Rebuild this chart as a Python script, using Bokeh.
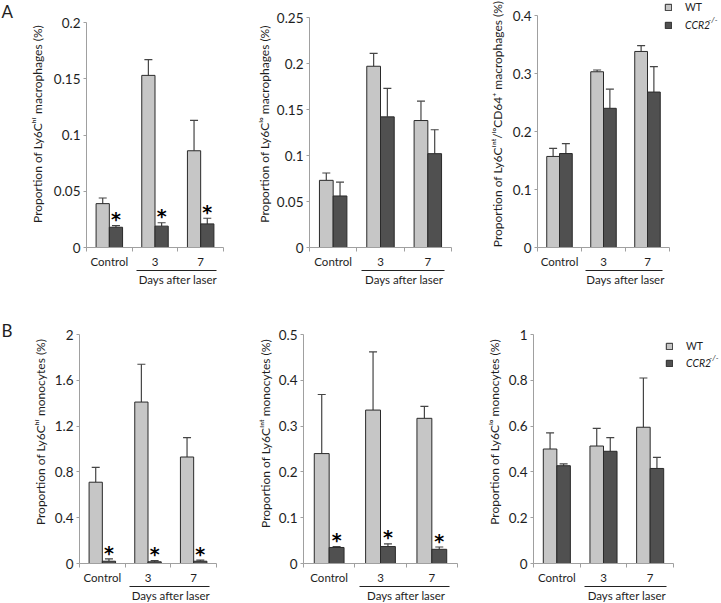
import numpy as np
from bokeh.plotting import figure
from bokeh.models import (Range1d, FixedTicker, LinearAxis, Label, Legend, LegendItem,
                          ColumnDataSource, Whisker, TeeHead)
from bokeh.layouts import column, row
from bokeh.embed import file_html
from bokeh.resources import INLINE
from bokeh.core.properties import value

# ---------------- data ----------------
categories = ["Control", "3", "7"]
group_label = "Days after laser"
series_names = ["WT", "CCR2"]
panel_letters = ["A", "B"]

# A: macrophages
a1_wt = [0.039, 0.153, 0.086]
a1_wt_err = [0.005, 0.014, 0.027]
a1_ko = [0.018, 0.019, 0.021]
a1_ko_err = [0.0015, 0.003, 0.005]
a1_stars = [True, True, True]
a1_yticks = [0, 0.05, 0.1, 0.15, 0.2]
a1_ylabels = ["0", "0.05", "0.1", "0.15", "0.2"]
a1_title = "Proportion of Ly6Cʰⁱ macrophages (%)"

a2_wt = [0.073, 0.197, 0.138]
a2_wt_err = [0.008, 0.014, 0.021]
a2_ko = [0.056, 0.142, 0.102]
a2_ko_err = [0.015, 0.031, 0.026]
a2_stars = [False, False, False]
a2_yticks = [0, 0.05, 0.1, 0.15, 0.2, 0.25]
a2_ylabels = ["0", "0.05", "0.1", "0.15", "0.2", "0.25"]
a2_title = "Proportion of Ly6Cˡᵒ macrophages (%)"

a3_wt = [0.157, 0.303, 0.338]
a3_wt_err = [0.014, 0.003, 0.010]
a3_ko = [0.162, 0.240, 0.268]
a3_ko_err = [0.017, 0.033, 0.044]
a3_stars = [False, False, False]
a3_yticks = [0, 0.1, 0.2, 0.3, 0.4]
a3_ylabels = ["0", "0.1", "0.2", "0.3", "0.4"]
a3_title = "Proportion of Ly6Cⁱⁿᵗ/ˡᵒCD64⁺ macrophages (%)"

# B: monocytes
b1_wt = [0.71, 1.41, 0.93]
b1_wt_err = [0.13, 0.33, 0.17]
b1_ko = [0.02, 0.015, 0.02]
b1_ko_err = [0.02, 0.01, 0.01]
b1_stars = [True, True, True]
b1_yticks = [0, 0.4, 0.8, 1.2, 1.6, 2]
b1_ylabels = ["0", "0.4", "0.8", "1.2", "1.6", "2"]
b1_title = "Proportion of Ly6Cʰⁱ monocytes (%)"

b2_wt = [0.240, 0.335, 0.317]
b2_wt_err = [0.129, 0.127, 0.026]
b2_ko = [0.035, 0.037, 0.031]
b2_ko_err = [0.002, 0.006, 0.005]
b2_stars = [True, True, True]
b2_yticks = [0, 0.1, 0.2, 0.3, 0.4, 0.5]
b2_ylabels = ["0", "0.1", "0.2", "0.3", "0.4", "0.5"]
b2_title = "Proportion of Ly6Cⁱⁿᵗ  monocytes (%)"

b3_wt = [0.50, 0.513, 0.595]
b3_wt_err = [0.07, 0.077, 0.215]
b3_ko = [0.427, 0.49, 0.415]
b3_ko_err = [0.008, 0.06, 0.048]
b3_stars = [False, False, False]
b3_yticks = [0, 0.2, 0.4, 0.6, 0.8, 1]
b3_ylabels = ["0", "0.2", "0.4", "0.6", "0.8", "1"]
b3_title = "Proportion of Ly6Cˡᵒ monocytes (%)"

# ---------------- style ----------------
FONT = "Lato"
WT_COL = "#c6c6c6"
KO_COL = "#505050"
AXIS_COL = "#a0a0a0"
TXT_COL = "#1e1e1e"
BAR_W = 0.29

ROW1 = dict(fh=247, top=0, bottom=53)
ROW2 = dict(fh=263, top=0, bottom=39)


def make_panel(wt, wt_err, ko, ko_err, stars, yticks, ylabels, ytitle,
               fw_axis, fh_axis, left, right, title_standoff, rowcfg, fw_extra=0):
    n = len(categories)
    ymax = yticks[-1]
    fw = fw_axis + fw_extra
    fh = rowcfg["fh"]
    p = figure(frame_width=fw, frame_height=fh,
               min_border_left=left, min_border_right=right,
               min_border_top=rowcfg["top"], min_border_bottom=rowcfg["bottom"],
               x_range=Range1d(0, n * fw / fw_axis), y_range=Range1d(0, ymax * fh / fh_axis),
               x_axis_type=None, y_axis_type=None,
               output_backend="svg", toolbar_location=None)
    p.outline_line_color = None
    p.background_fill_color = "white"
    p.border_fill_color = "white"

    xc = np.arange(n) + 0.5
    x_wt = xc - BAR_W / 2
    x_ko = xc + BAR_W / 2
    wt = np.array(wt); ko = np.array(ko)
    wt_up = wt + np.array(wt_err)
    ko_up = ko + np.array(ko_err)

    # error bars (upper only)
    for xs, lo, up in [(x_wt, wt, wt_up), (x_ko, ko, ko_up)]:
        src = ColumnDataSource(dict(x=xs, lower=lo, upper=up))
        w = Whisker(source=src, base="x", lower="lower", upper="upper", dimension="height",
                    line_color="#454545", line_width=1.2, lower_head=None,
                    upper_head=TeeHead(size=8, line_color="#454545", line_width=1.2))
        p.add_layout(w)

    r_wt = p.vbar(x=x_wt, top=wt, width=BAR_W, fill_color=WT_COL,
                  line_color="#2a2a2a", line_width=1)
    r_ko = p.vbar(x=x_ko, top=ko, width=BAR_W, fill_color=KO_COL,
                  line_color="#2a2a2a", line_width=1)

    sig = np.array(stars)
    if sig.any():
        p.text(x=x_ko[sig], y=(ko_up + 0.028 * ymax)[sig], text=["*"] * int(sig.sum()),
               text_font=value("DejaVu Sans"), text_font_style="bold",
               text_font_size="19px", text_align="center", text_baseline="middle",
               text_color="black")

    # y axis
    yax = LinearAxis(ticker=FixedTicker(ticks=yticks, minor_ticks=[]),
                     major_label_overrides={t: l for t, l in zip(yticks, ylabels)},
                     axis_label=ytitle, bounds=(0, ymax))
    yax.axis_line_color = AXIS_COL
    yax.major_tick_line_color = AXIS_COL
    yax.major_tick_out = 3
    yax.major_tick_in = 0
    yax.major_label_standoff = 3
    yax.major_label_text_font = FONT
    yax.major_label_text_font_size = "13.5px"
    yax.major_label_text_color = TXT_COL
    yax.axis_label_text_font = FONT
    yax.axis_label_text_font_size = "12px"
    yax.axis_label_text_font_style = "normal"
    yax.axis_label_text_color = TXT_COL
    yax.axis_label_standoff = title_standoff
    p.add_layout(yax, "left")

    # x axis with category labels; tick marks at category boundaries
    xax = LinearAxis(ticker=FixedTicker(ticks=list(xc), minor_ticks=list(range(n + 1))),
                     major_label_overrides={float(t): c for t, c in zip(xc, categories)},
                     bounds=(0, n))
    xax.axis_line_color = AXIS_COL
    xax.major_tick_line_color = None
    xax.major_tick_out = 4
    xax.major_tick_in = 0
    xax.minor_tick_line_color = AXIS_COL
    xax.minor_tick_out = 4
    xax.minor_tick_in = 0
    xax.major_label_standoff = 3
    xax.major_label_text_font = FONT
    xax.major_label_text_font_size = "11.5px"
    xax.major_label_text_color = TXT_COL
    p.add_layout(xax, "below")

    # group axis: underline + "Days after laser"
    gmid = float(np.mean(xc[1:]))
    gax = LinearAxis(ticker=FixedTicker(ticks=[gmid], minor_ticks=[]),
                     major_label_overrides={gmid: group_label},
                     bounds=(1.1, 2.85))
    gax.axis_line_color = "#222222"
    gax.axis_line_width = 1
    gax.major_tick_line_color = None
    gax.major_tick_out = 0
    gax.major_tick_in = 0
    gax.minor_tick_line_color = None
    gax.major_label_standoff = 2
    gax.major_label_text_font = FONT
    gax.major_label_text_font_size = "11.5px"
    gax.major_label_text_color = TXT_COL
    p.add_layout(gax, "below")
    return p, r_wt, r_ko


def add_legend(p, r_wt, r_ko, vx, vy_wt, vy_ko):
    for r, name, vy, style in [(r_wt, series_names[0], vy_wt, "normal"),
                               (r_ko, series_names[1], vy_ko, "italic")]:
        lg = Legend(items=[LegendItem(label=name, renderers=[r])], location=(vx, vy),
                    background_fill_alpha=0, border_line_color=None, padding=0, margin=0,
                    glyph_width=8, glyph_height=8, label_standoff=13, label_height=12,
                    label_text_font=FONT, label_text_font_size="10.5px",
                    label_text_font_style=style, label_text_color=TXT_COL)
        p.add_layout(lg)
    p.add_layout(Label(x=vx + 8 + 13 + 23, y=vy_ko + 7, x_units="screen", y_units="screen",
                       text="-/-", text_font=FONT, text_font_size="8px",
                       text_font_style="italic", text_color=TXT_COL))


def letter_strip(letter, rowcfg, ly):
    s = figure(frame_width=22, frame_height=rowcfg["fh"],
               min_border_left=0, min_border_right=0,
               min_border_top=rowcfg["top"], min_border_bottom=rowcfg["bottom"],
               x_range=Range1d(0, 1), y_range=Range1d(0, 1),
               x_axis_type=None, y_axis_type=None,
               output_backend="svg", toolbar_location=None)
    s.outline_line_color = None
    s.add_layout(Label(x=1, y=ly, x_units="screen", y_units="screen", text=letter,
                       text_font=FONT, text_font_size="17px", text_baseline="top",
                       text_color=TXT_COL))
    return s


# row 1 (height 300)
pa1, _, _ = make_panel(a1_wt, a1_wt_err, a1_ko, a1_ko_err, a1_stars, a1_yticks, a1_ylabels,
                       a1_title, 137, 225, 64, 17, 6, ROW1)
pa2, _, _ = make_panel(a2_wt, a2_wt_err, a2_ko, a2_ko_err, a2_stars, a2_yticks, a2_ylabels,
                       a2_title, 142, 230, 69, 29, 2, ROW1)
pa3, ra3w, ra3k = make_panel(a3_wt, a3_wt_err, a3_ko, a3_ko_err, a3_stars, a3_yticks, a3_ylabels,
                             a3_title, 132, 232, 57, 0, 5, ROW1, fw_extra=51)
add_legend(pa3, ra3w, ra3k, 127, 234, 216)

# row 2 (height 302)
pb1, _, _ = make_panel(b1_wt, b1_wt_err, b1_ko, b1_ko_err, b1_stars, b1_yticks, b1_ylabels,
                       b1_title, 137, 229, 57, 24, 4, ROW2)
pb2, _, _ = make_panel(b2_wt, b2_wt_err, b2_ko, b2_ko_err, b2_stars, b2_yticks, b2_ylabels,
                       b2_title, 154, 229, 63, 23, 3, ROW2)
pb3, rb3w, rb3k = make_panel(b3_wt, b3_wt_err, b3_ko, b3_ko_err, b3_stars, b3_yticks, b3_ylabels,
                             b3_title, 140, 229, 53, 0, 4, ROW2, fw_extra=47)
add_legend(pb3, rb3w, rb3k, 132, 211, 194)

sa = letter_strip(panel_letters[0], ROW1, 247)
sb = letter_strip(panel_letters[1], ROW2, 244)

layout = column(row(sa, pa1, pa2, pa3), row(sb, pb1, pb2, pb3))

open("out.html", "w").write(file_html(layout, INLINE))
